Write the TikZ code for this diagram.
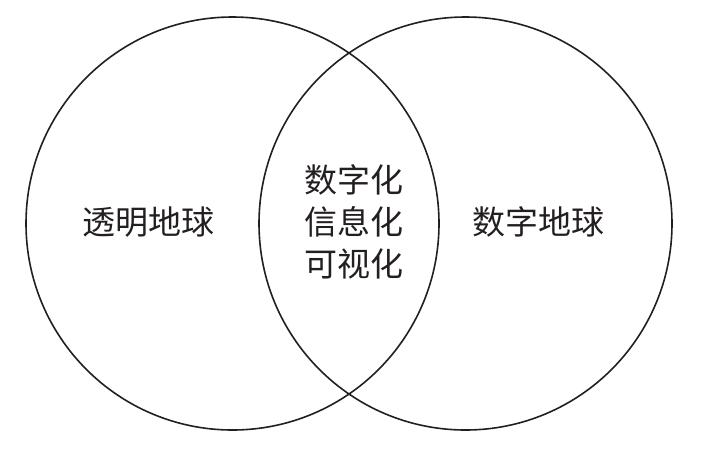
\documentclass[tikz,border=0pt]{standalone}
\usepackage{fontspec}
\newfontfamily\cjk{Noto Sans CJK SC}
\usetikzlibrary{positioning}
\definecolor{ink}{HTML}{231F20}

\begin{document}
\begin{tikzpicture}[x=1pt, y=-1pt,
      ring/.style={draw=ink, line width=1.6pt},
      lbl/.style={font=\cjk\fontsize{33}{42}\selectfont, text=ink, align=center, inner sep=0pt}]
    \useasboundingbox (0,0) rectangle (702,451);
    \node[ring, circle, minimum size=413pt, inner sep=0pt] (tm) at (232.5,223.5) {};
    \node[ring, circle, minimum size=413pt, inner sep=0pt] (sz) at (465.5,223.5) {};
    \node[lbl] (tmt) at (148,222) {透明地球};
    \node[lbl] (szt) at (538,222) {数字地球};
    \node[lbl] (mid) at (354,222) {数字化\\信息化\\可视化};
  \end{tikzpicture}
\end{document}
